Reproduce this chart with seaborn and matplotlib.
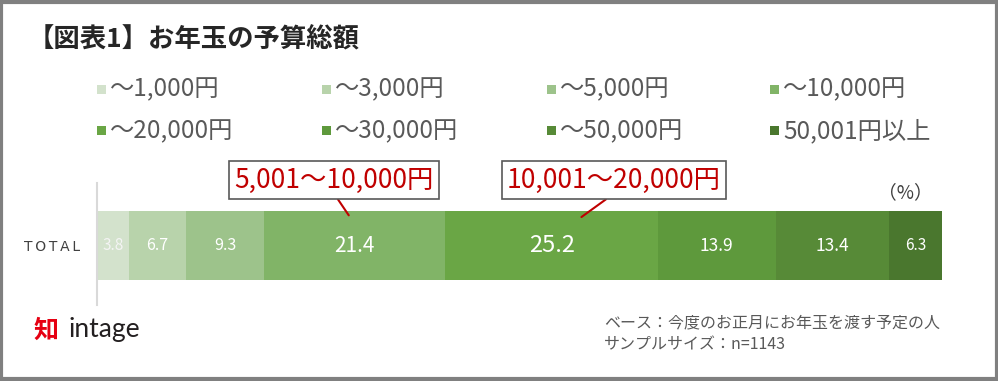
import numpy as np
import matplotlib
matplotlib.use("Agg")
import matplotlib.pyplot as plt
import matplotlib.patches as mpatches
import seaborn as sns

# data (percent of respondents, TOTAL row)
categories = ["～1,000円", "～3,000円", "～5,000円", "～10,000円",
              "～20,000円", "～30,000円", "～50,000円", "50,001円以上"]
values = [3.8, 6.7, 9.3, 21.4, 25.2, 13.9, 13.4, 6.3]
row_label = "TOTAL"
colors = ["#d3e2cc", "#b8d3ab", "#9dc38b", "#81b467",
          "#6aa645", "#5e993c", "#578a37", "#4a772e"]
label_sizes = [11, 11.5, 11.5, 15, 17, 12.5, 12.5, 11]

title = "【図表1】お年玉の予算総額"
callouts = ["5,001～10,000円", "10,001～20,000円"]
footer = ["ベース：今度のお正月にお年玉を渡す予定の人", "サンプルサイズ：n=1143"]

W, H = 998, 381
sns.set_theme(style="white")
plt.rcParams["font.family"] = ["Noto Sans CJK JP", "DejaVu Sans"]


def fx(px):
    return px / W


def fy(py):
    return 1 - py / H


fig = plt.figure(figsize=(W / 100, H / 100), dpi=100)
fig.patch.set_facecolor("white")

# bar area: x 0..100 spans 97..942 px, axis line 183..305 px
ax = fig.add_axes([fx(97), fy(305), (942 - 97) / W, (305 - 183) / H])

cum = np.cumsum(values)
# stacked bar: draw cumulative totals from the widest down
for i in reversed(range(len(values))):
    sns.barplot(x=[cum[i]], y=[row_label], color=colors[i], saturation=1,
                width=0.8, errorbar=None, linewidth=0, ax=ax)

for i, v in enumerate(values):
    ax.text(cum[i] - v / 2, 0, f"{v}", ha="center", va="center",
            color="white" if i else "#f4f4f4", fontsize=label_sizes[i])

ax.set_xlim(0, 100)
ax.set_ylim(0.69, -0.725)
ax.set_xlabel("")
ax.set_ylabel("")
ax.set_xticks([])
ax.set_facecolor("none")
for s in ["top", "right", "bottom"]:
    ax.spines[s].set_visible(False)
ax.spines["left"].set_color("#d9d9d9")
ax.spines["left"].set_linewidth(1.5)
ax.set_yticks([0])
ax.set_yticklabels(["\u2009".join(row_label)], fontsize=10, color="#404040",
                   family=["DejaVu Sans"])
ax.tick_params(axis="y", length=0, pad=12)

# callout boxes
starts = cum - np.array(values)
targets = [(3, 0.467, -0.35), (4, 0.64, -0.33)]
box_centers = [(334, 180), (614, 180)]
for txt, (k, frac, yy), (bx, by) in zip(callouts, targets, box_centers):
    ax.annotate(txt, xy=(starts[k] + frac * values[k], yy), xycoords="data",
                xytext=(fx(bx), fy(by)), textcoords="figure fraction",
                ha="center", va="center", color="#c00000", fontsize=19,
                bbox=dict(boxstyle="square,pad=0.2", fc="white",
                          ec="#595959", lw=1.2),
                arrowprops=dict(arrowstyle="-", color="#c00000", lw=1.5,
                                relpos=(0.5, 0), shrinkA=0, shrinkB=0))

fig.text(fx(905), fy(193), "（%）", ha="center", va="center",
         fontsize=13.5, color="#404040")

# title
fig.text(fx(28), fy(40), title, ha="left", va="center", fontsize=19,
         fontweight="bold", color="#262626")

# legend (4 x 2 grid)
col_x = [97, 322, 547, 770]
row_y = [89, 131]
for i, lab in enumerate(categories):
    x0, y0 = col_x[i % 4], row_y[i // 4]
    fig.patches.append(mpatches.Rectangle((fx(x0), fy(y0 + 4.5)), 9 / W, 9 / H,
                                          transform=fig.transFigure,
                                          fc=colors[i], ec="none"))
    fig.text(fx(x0 + 13), fy(y0), lab, ha="left", va="center",
             fontsize=17.5, color="#595959")

# footer
fig.text(fx(604), fy(323), footer[0], ha="left", va="center",
         fontsize=11.5, color="#595959")
fig.text(fx(604), fy(345), footer[1], ha="left", va="center",
         fontsize=11.5, color="#595959")

# logo
fig.text(fx(34), fy(331), "知", ha="left", va="center", fontsize=18,
         fontweight="bold", color="#e60012")
fig.text(fx(68), fy(329), "intage", ha="left", va="center", fontsize=19,
         color="#231f20", family=["Lato", "DejaVu Sans"])

# outer frame
fig.patches.append(mpatches.Rectangle((0.0015, 0.004), 0.997, 0.992,
                                      transform=fig.transFigure, fill=False,
                                      ec="#808080", lw=3))

fig.savefig("out.png", dpi=100)
